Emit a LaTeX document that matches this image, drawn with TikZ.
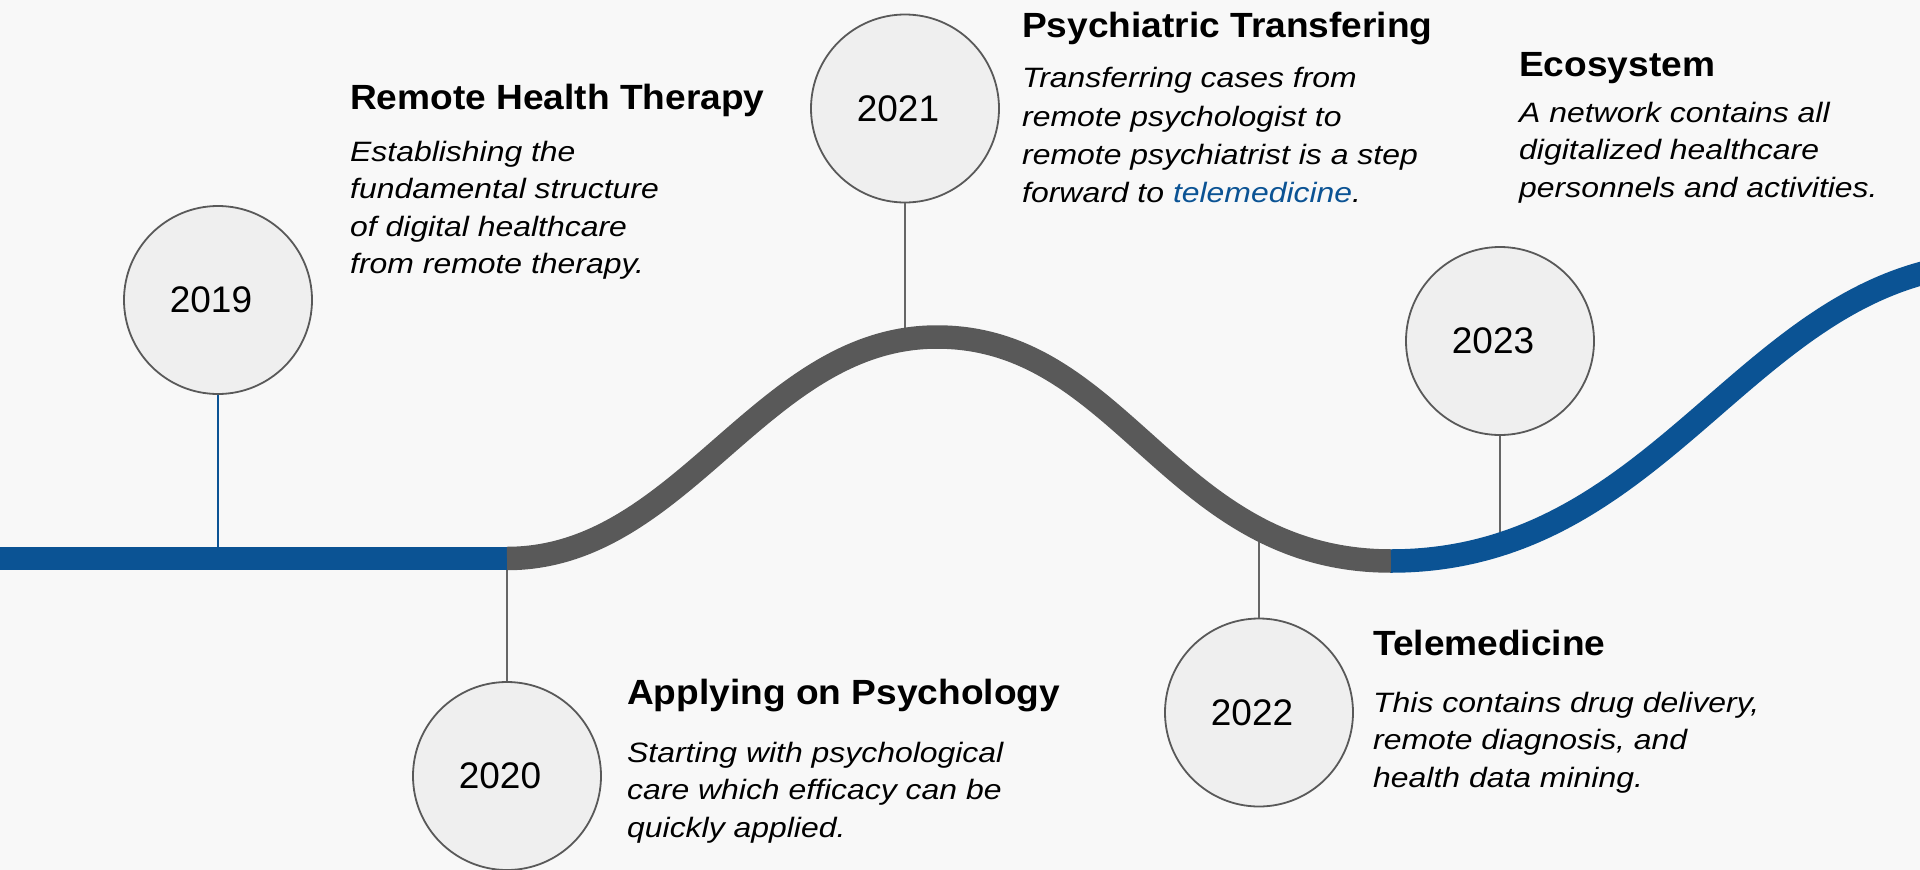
\documentclass[tikz,border=0pt]{standalone}
\usepackage{fontspec}
\setmainfont{Liberation Sans}
\newfontfamily\titlefont[FakeStretch=1.06]{Liberation Sans}
\newfontfamily\bodyfont[FakeStretch=1.14]{Liberation Sans}
\definecolor{bgc}{HTML}{F8F8F8}
\definecolor{tlblue}{HTML}{0B5394}
\definecolor{tlgray}{HTML}{595959}
\definecolor{circfill}{HTML}{EFEFEF}
\definecolor{conngray}{HTML}{666666}
\begin{document}
\begin{tikzpicture}[x=1pt,y=-1pt,
  yearcirc/.style={circle, draw=tlgray, line width=1.8pt, fill=circfill, minimum size=188pt, inner sep=0pt},
  yeartext/.style={font=\fontsize{37}{44}\selectfont, text=black, inner sep=0pt},
  ttl/.style={anchor=base west, inner sep=0pt, font=\titlefont\bfseries\fontsize{35}{42}\selectfont},
  bodytext/.style={anchor=base west, inner sep=0pt, align=left, font=\bodyfont\itshape\fontsize{28}{37.5}\selectfont},
  conn/.style={draw=conngray, line width=1.5pt},
  band/.style={line width=23.5pt, line cap=butt}
]
\fill[bgc] (0,0) rectangle (1920,870);
\useasboundingbox (0,0) rectangle (1920,870);

% curve key points
\coordinate (b0) at (-10,558.5);
\coordinate (g0) at (507,558.5);
\coordinate (pk) at (937,337);
\coordinate (tr) at (1391,561);
\coordinate (pk2) at (2000,263);
% connector ends on the curve
\coordinate (e2019) at (218,558.5);
\coordinate (e2020) at (507,558.5);
\coordinate (e2021) at (905,338);
\coordinate (e2022) at (1259,529);
\coordinate (e2023) at (1500,545);

% circles
\node[yearcirc] (c2019) at (218,300) {};
\node[yearcirc] (c2020) at (507,776) {};
\node[yearcirc] (c2021) at (905,108.5) {};
\node[yearcirc] (c2022) at (1259,712.5) {};
\node[yearcirc] (c2023) at (1500,341) {};
\node[yeartext] (t2019) at ([xshift=-7pt]c2019.center) {2019};
\node[yeartext] (t2020) at ([xshift=-7pt]c2020.center) {2020};
\node[yeartext] (t2021) at ([xshift=-7pt]c2021.center) {2021};
\node[yeartext] (t2022) at ([xshift=-7pt]c2022.center) {2022};
\node[yeartext] (t2023) at ([xshift=-7pt]c2023.center) {2023};

% connectors
\draw[conn, draw=tlblue] (c2019.south) -- (e2019);
\draw[conn] (e2020) -- (c2020.north);
\draw[conn] (c2021.south) -- (e2021);
\draw[conn] (e2022) -- (c2022.north);
\draw[conn] (c2023.south) -- (e2023);

% timeline
\draw[band, tlblue] (b0) -- (g0);
\draw[band, tlgray] (g0) .. controls (683,558.5) and (761,337) .. (pk)
  .. controls (1123,337) and (1171,561) .. (tr);
\draw[band, tlblue] (tr) .. controls (1671,561) and (1750,263) .. (pk2);

% texts (body nodes are anchored at the baseline of their last line)
\node[ttl] (h1) at (350,109) {Remote Health Therapy};
\node[bodytext] (d1) at (350,273.5) {Establishing the\\fundamental structure\\of digital healthcare\\from remote therapy.};
\node[ttl] (h2) at (627,704) {Applying on Psychology};
\node[bodytext] (d2) at (627,837) {Starting with psychological\\care which efficacy can be\\quickly applied.};
\node[ttl] (h3) at (1022,37) {Psychiatric Transfering};
\node[bodytext, font=\bodyfont\itshape\fontsize{28}{38.2}\selectfont] (d3) at (1022,202.5) {Transferring cases from\\remote psychologist to\\remote psychiatrist is a step\\forward to {\color{tlblue}telemedicine}.};
\node[ttl] (h4) at (1373,655) {Telemedicine};
\node[bodytext] (d4) at (1373,787) {This contains drug delivery,\\remote diagnosis, and\\health data mining.};
\node[ttl] (h5) at (1519,76) {Ecosystem};
\node[bodytext] (d5) at (1519,197) {A network contains all\\digitalized healthcare\\personnels and activities.};
\end{tikzpicture}
\end{document}
